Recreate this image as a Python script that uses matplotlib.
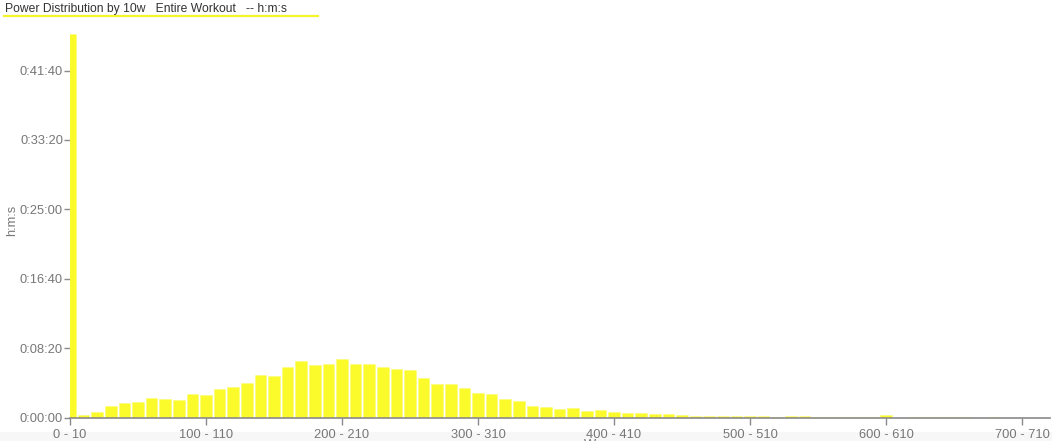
import matplotlib
matplotlib.use("Agg")
import matplotlib.pyplot as plt
from matplotlib.ticker import FuncFormatter, FixedLocator
from matplotlib.patches import Rectangle
from matplotlib.lines import Line2D

plt.rcParams['font.family'] = ['Liberation Sans', 'DejaVu Sans']

title = "Power Distribution by 10w   Entire Workout   -- h:m:s"
y_label = "h:m:s"
x_label = "W"
bin_width_w = 10
n_bins = 72
# seconds spent in each 10 W bin
seconds = [2763, 20, 43, 81, 101, 110, 137, 130, 125, 168,
           161, 204, 223, 252, 306, 302, 367, 405, 379, 389,
           420, 382, 382, 362, 346, 343, 286, 243, 238, 214,
           175, 166, 135, 122, 86, 77, 60, 72, 46, 55,
           38, 33, 32, 27, 27, 20, 12, 14, 12, 14,
           14, 10, 7, 12, 10, 7, 7, 7, 7, 7,
           17, 0, 6, 6, 3, 3, 3, 0, 3, 0,
           0, 0]
bin_labels = [f"{bin_width_w*i} - {bin_width_w*i+bin_width_w}" for i in range(n_bins)]
y_ticks = [0, 500, 1000, 1500, 2000, 2500]

W, H = 1052, 441
fig = plt.figure(figsize=(W/100, H/100), dpi=100)

# light bottom band (behind everything)
bg = fig.add_axes([0, 0, 1, 9/H], zorder=-5)
bg.set_axis_off()
bg.add_patch(Rectangle((0, 0), 1, 1, transform=bg.transAxes,
                       facecolor='#f7f7f7', edgecolor='none'))

ax_left, ax_right = 70, 1050
ax_bottom, ax_top = 417.5, 30
ax = fig.add_axes([ax_left/W, (H-ax_bottom)/H, (ax_right-ax_left)/W, (ax_bottom-ax_top)/H])
ax.patch.set_alpha(0)

x = list(range(n_bins))
ax.bar(x, seconds[:n_bins], width=0.86, color='#fbfb2c', edgecolor='#fdfd7a',
       linewidth=0.4, zorder=2)

ax.set_xlim(0, (ax_right-ax_left)/13.6)
ax.set_ylim(0, (ax_bottom-ax_top)*7.205)

def hms(v, pos):
    v = int(round(v))
    return f"{v//3600}:{(v%3600)//60:02d}:{v%60:02d}"

ax.yaxis.set_major_locator(FixedLocator(y_ticks))
ax.yaxis.set_major_formatter(FuncFormatter(hms))
tick_pos = list(range(0, n_bins, 10))
ax.set_xticks(tick_pos)
ax.set_xticklabels([bin_labels[i] for i in tick_pos])

for s in ['top', 'right', 'left']:
    ax.spines[s].set_visible(False)
ax.spines['bottom'].set_color('#8a8a8a')
ax.spines['bottom'].set_linewidth(1.2)
ax.spines['bottom'].set_zorder(3)

ax.tick_params(axis='x', colors='#8a8a8a', labelcolor='#777777', labelsize=9.3,
               length=5, width=1, pad=3, direction='out')
ax.tick_params(axis='y', colors='#8a8a8a', labelcolor='#777777', labelsize=9.3,
               length=4, width=1, pad=1, direction='out')

fig.text(12/W, 1-220/H, y_label, rotation=90, ha='center', va='center',
         fontsize=9.3, color='#777777')
fig.text(590/W, 1-439/H, x_label, ha='center', va='top',
         fontsize=9.3, color='#777777')

fig.text(5/W, 1-9/H, title, ha='left', va='center', fontsize=8.7, color='#333333')
fig.lines.append(Line2D([4/W, 318/W], [1-16/H, 1-16/H], transform=fig.transFigure,
                        color='#f5f52a', linewidth=1.6))

fig.savefig("out.png", dpi=100)
